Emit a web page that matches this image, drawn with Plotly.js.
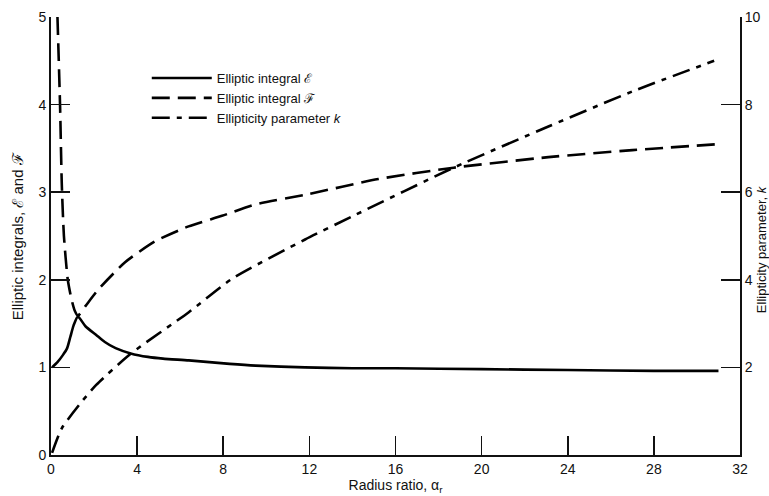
<!DOCTYPE html>
<html>
<head>
<meta charset="utf-8">
<script src="https://cdn.plot.ly/plotly-3.0.1.min.js"></script>
<style>html,body{margin:0;padding:0;background:#fff;}#chart{width:769px;height:496px;}</style>
</head>
<body>
<div id="chart"></div>
<script>
// Elliptic integral E (solid, left axis)
const eX = [0.05, 0.3, 0.55, 0.75, 0.9, 1.05, 1.25, 1.6, 2.1, 2.5, 3.0, 3.7, 4.5, 5.2, 6.4, 8.3, 9.5, 11.8, 14, 16, 20, 24, 28, 31];
const eY = [1.0, 1.06, 1.14, 1.22, 1.35, 1.48, 1.58, 1.47, 1.37, 1.29, 1.22, 1.16, 1.12, 1.10, 1.08, 1.04, 1.02, 1.0, 0.99, 0.99, 0.98, 0.97, 0.96, 0.96];
// Elliptic integral F (dashed, left axis)
const fX = [0.3, 0.42, 0.5, 0.6, 0.78, 0.95, 1.1, 1.25, 1.6, 2.2, 3.44, 4.84, 6.39, 7.94, 9.49, 11.8, 15.2, 18.7, 23.1, 27, 31.1];
const fY = [5.0, 4.0, 3.1, 2.5, 2.0, 1.78, 1.65, 1.59, 1.70, 1.89, 2.2, 2.44, 2.61, 2.73, 2.86, 2.97, 3.15, 3.28, 3.40, 3.48, 3.55];
// Ellipticity parameter k (dash-dot, right axis)
const kX = [0.05, 0.5, 1.3, 2.1, 3.7, 6.4, 8.4, 11.8, 14, 18.7, 23.1, 27, 30.8];
const kY = [0.05, 0.61, 1.14, 1.6, 2.31, 3.26, 4.02, 4.92, 5.45, 6.56, 7.5, 8.3, 9.0];

const xTicks = [0, 4, 8, 12, 16, 20, 24, 28, 32];
const yTicks = [0, 1, 2, 3, 4, 5];
const y2Ticks = [2, 4, 6, 8, 10];

const FONT = "Liberation Sans, Arial, sans-serif";
const traces = [
  {x: eX, y: eY, name: 'Elliptic integral ℰ', mode: 'lines', line: {color: '#000', width: 2.6, shape: 'spline', smoothing: 0.6}},
  {x: fX, y: fY, name: 'Elliptic integral ℱ', mode: 'lines', line: {color: '#000', width: 2.6, dash: '18px,8px', shape: 'spline', smoothing: 0.6}},
  {x: kX, y: kY, name: 'Ellipticity parameter <i>k</i>', mode: 'lines', yaxis: 'y2', line: {color: '#000', width: 2.6, dash: '18px,7px,5px,7px', shape: 'spline', smoothing: 0.6}}
];

const layout = {
  width: 769, height: 496,
  margin: {l: 51, r: 29, t: 17, b: 41},
  paper_bgcolor: '#fff', plot_bgcolor: '#fff',
  font: {family: FONT, size: 14, color: '#111'},
  showlegend: true,
  legend: {x: 0.139, y: 0.895, xanchor: 'left', yanchor: 'top', bgcolor: 'rgba(0,0,0,0)', itemwidth: 60, font: {size: 13, color: '#111'}, tracegroupgap: 0},
  xaxis: {
    range: [0, 32], tickvals: xTicks, ticktext: xTicks.map(String),
    showgrid: false, zeroline: false, showline: true, linecolor: '#111', linewidth: 2,
    ticks: 'inside', ticklen: 19, tickwidth: 1.6, tickcolor: '#111', mirror: false,
    tickfont: {size: 14},
    title: {text: 'Radius ratio, α<sub>r</sub>', font: {size: 14}, standoff: 4},
    automargin: false
  },
  yaxis: {
    range: [0, 5], tickvals: yTicks, ticktext: yTicks.map(String),
    showgrid: false, zeroline: false, showline: true, linecolor: '#111', linewidth: 2,
    ticks: 'inside', ticklen: 19, tickwidth: 1.6, tickcolor: '#111',
    tickfont: {size: 14},
    automargin: false
  },
  yaxis2: {
    range: [0, 10], tickvals: y2Ticks, ticktext: y2Ticks.map(String),
    overlaying: 'y', side: 'right',
    showgrid: false, zeroline: false, showline: true, linecolor: '#111', linewidth: 2,
    ticks: 'inside', ticklen: 19, tickwidth: 1.6, tickcolor: '#111',
    tickfont: {size: 14},
    automargin: false
  },
  annotations: [
    {xref: 'paper', yref: 'paper', x: -0.049, y: 0.5, xanchor: 'center', yanchor: 'middle',
     text: 'Elliptic integrals, ℰ and ℱ', textangle: -90, showarrow: false, font: {size: 15, color: '#111'}},
    {xref: 'paper', yref: 'paper', x: 1.0305, y: 0.47, xanchor: 'center', yanchor: 'middle',
     text: 'Ellipticity parameter, <i>k</i>', textangle: -90, showarrow: false, font: {size: 13, color: '#111'}}
  ]
};

Plotly.newPlot('chart', traces, layout, {displayModeBar: false, staticPlot: true});
</script>
</body>
</html>
